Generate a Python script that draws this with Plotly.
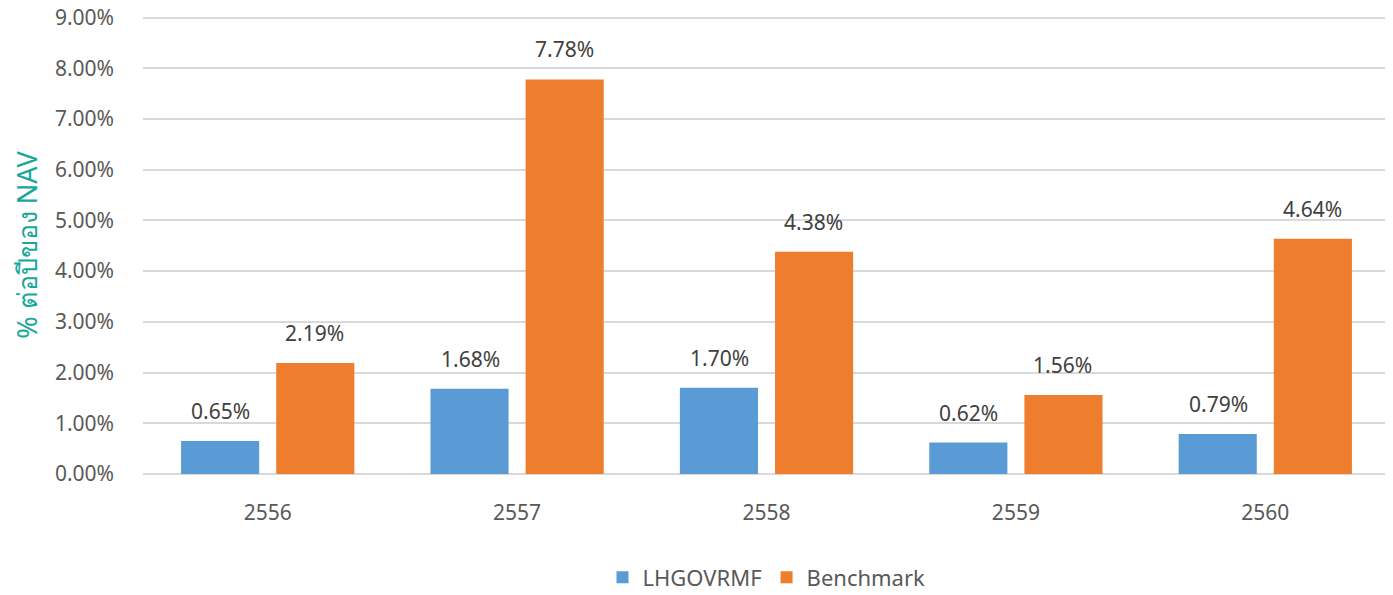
import plotly.graph_objects as go

# Data
years = ["2556", "2557", "2558", "2559", "2560"]
fund_values = [0.65, 1.68, 1.70, 0.62, 0.79]
benchmark_values = [2.19, 7.78, 4.38, 1.56, 4.64]
y_ticks = [0, 1, 2, 3, 4, 5, 6, 7, 8, 9]

FONT = "Noto Sans, Segoe UI, Tahoma, DejaVu Sans, sans-serif"
LABEL_FONT = dict(size=21, color="#404040", family=FONT)

fig = go.Figure()
fig.add_trace(go.Bar(
    x=years, y=fund_values, name="LHGOVRMF",
    marker=dict(color="#5A9BD5", line=dict(width=0)),
))
fig.add_trace(go.Bar(
    x=years, y=benchmark_values, name="Benchmark",
    marker=dict(color="#EF7D2E", line=dict(width=0)),
))

# value labels above each bar (category index, shifted over each bar of the group)
for i, v in enumerate(fund_values):
    fig.add_annotation(x=i, y=v, text=f"{v:.2f}%", showarrow=False,
                       yanchor="bottom", xshift=-47, yshift=14, font=LABEL_FONT)
for i, v in enumerate(benchmark_values):
    fig.add_annotation(x=i, y=v, text=f"{v:.2f}%", showarrow=False,
                       yanchor="bottom", xshift=47, yshift=14, font=LABEL_FONT)

fig.update_layout(
    width=1385, height=587,
    paper_bgcolor="white", plot_bgcolor="white",
    font=dict(family=FONT, size=20, color="#595959"),
    barmode="group", bargap=0.237, bargroupgap=0.179,
    margin=dict(l=135, r=3, t=8, b=121, autoexpand=False),
    showlegend=True,
    legend=dict(orientation="h", x=0.5, xanchor="center", y=-0.18, yanchor="top",
                font=dict(size=22, color="#595959"), traceorder="normal"),
    xaxis=dict(type="category", showgrid=False, showline=False, ticks="",
               automargin=False, ticklabelstandoff=24, tickfont=dict(size=21)),
    yaxis=dict(
        range=[0, 9.03], tickvals=y_ticks, automargin=False,
        ticktext=[f"{v:.2f}%" for v in y_ticks],
        ticklabeloverflow="allow",
        showgrid=True, gridcolor="#D9D9D9", gridwidth=2,
        zeroline=True, zerolinecolor="#D9D9D9", zerolinewidth=2,
        ticks="", ticklabelstandoff=28, tickfont=dict(size=21),
        title=dict(text="% ต่อปีของ NAV", standoff=10,
                   font=dict(size=27, color="#17A89A")),
    ),
)

fig.write_html("out.html")
